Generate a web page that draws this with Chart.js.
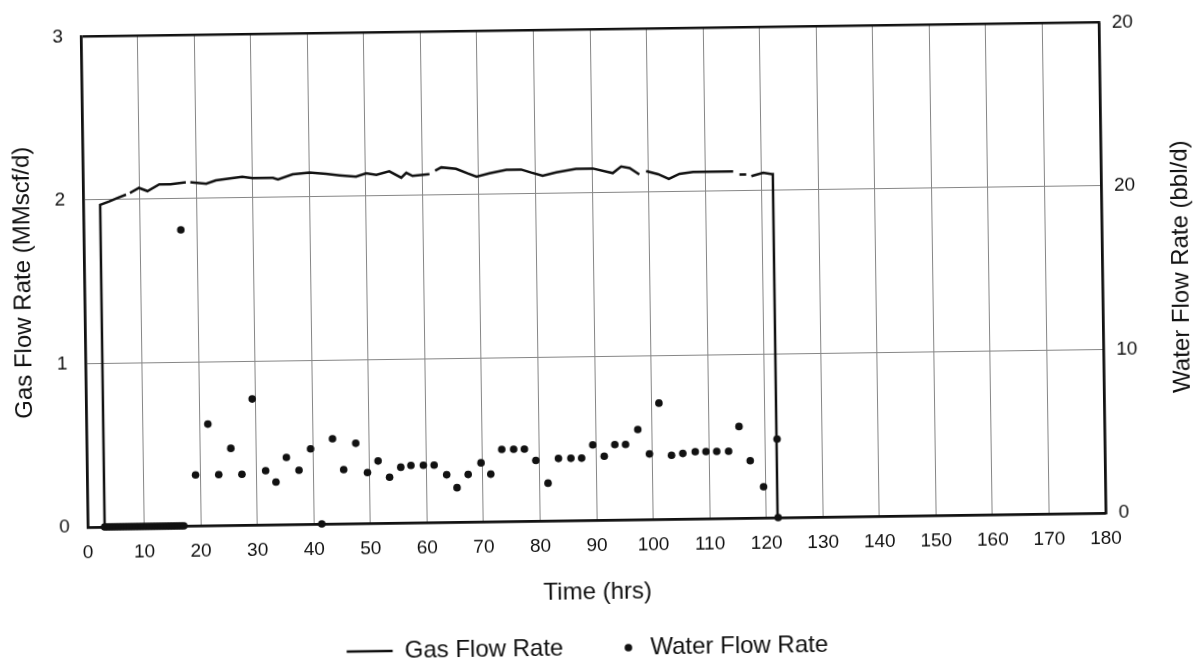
<!DOCTYPE html>
<html lang="en">
<head>
<meta charset="utf-8">
<title>Gas and Water Flow Rate</title>
<script src="https://cdn.jsdelivr.net/npm/chart.js@4.4.1/dist/chart.umd.min.js"></script>
<style>
    html, body { margin: 0; padding: 0; background: #ffffff; overflow: hidden; }
    /* the source sheet sits slightly skewed on the scanner */
    #frame { width: 1204px; height: 661px; transform: rotate(-0.8deg); transform-origin: 50% 50%; }
    canvas { display: block; }
</style>
</head>
<body>
<div id="frame"><canvas id="flowChart" width="1204" height="661"></canvas></div>
<script>
// Gas flow rate trace (MMscf/d); null marks a gap in the logged record
const gasTime = [
    3, 3, 4.6, 6.0, 7.6, 7.9, 8.3, 9.9, 11.4, 13.5,
    15.5, 18.2, 18.6, 19.0, 21.8, 23.5, 26.0, 28.2, 30.0, 33.6,
    34.5, 37.1, 40.1, 43.0, 45.4, 48.3, 50.1, 51.9, 54.2, 56.3,
    57.2, 58.3, 61.3, 61.8, 62.3, 63.4, 66.0, 68.1, 69.6, 71.9,
    74.9, 77.5, 79.3, 81.3, 83.7, 87.2, 90.2, 93.7, 95.2, 96.7,
    98.4, 99.0, 99.6, 101.7, 103.6, 105.5, 107.9, 111.0, 115.0, 115.5,
    116.1, 117.3, 117.7, 118.2, 120.3, 121.8, 122.0, 122.0,
];
const gasRate = [
    0, 1.97, 1.99, 2.01, 2.03, null, 2.04, 2.07, 2.05, 2.09,
    2.09, 2.10, null, 2.10, 2.09, 2.11, 2.12, 2.13, 2.12, 2.12,
    2.11, 2.14, 2.15, 2.14, 2.13, 2.12, 2.14, 2.13, 2.15, 2.11,
    2.14, 2.12, 2.13, null, 2.15, 2.17, 2.16, 2.13, 2.11, 2.13,
    2.15, 2.15, 2.13, 2.11, 2.13, 2.15, 2.15, 2.12, 2.16, 2.15,
    2.11, null, 2.13, 2.11, 2.08, 2.11, 2.12, 2.12, 2.12, null,
    2.10, 2.10, null, 2.09, 2.11, 2.10, 2.10, 0,
];

// Water flow rate samples (bbl/d)
const waterTime = [
    3, 3.5, 4, 4.5, 5, 5.5, 6, 6.5, 7, 7.5,
    8, 8.5, 9, 9.5, 10, 10.5, 11, 11.5, 12, 12.5,
    13, 13.5, 14, 14.5, 15, 15.5, 16, 16.5, 17,
    17.2, 19.2, 21.5, 23.3, 25.5, 27.4, 29.4, 31.6, 33.4, 35.3,
    37.5, 39.6, 41.4, 43.5, 45.4, 47.6, 49.6, 51.5, 53.5, 55.5,
    57.3, 59.5, 61.4, 63.6, 65.4, 67.4, 69.7, 71.4, 73.4, 75.5,
    77.4, 79.4, 81.5, 83.4, 85.6, 87.5, 89.5, 91.5, 93.4, 95.3,
    97.5, 99.5, 101.3, 103.4, 105.4, 107.6, 109.5, 111.4, 113.5, 115.4,
    117.3, 119.6, 122.1, 122.1,
];
const waterRate = [
    0, 0, 0, 0, 0, 0, 0, 0, 0, 0,
    0, 0, 0, 0, 0, 0, 0, 0, 0, 0,
    0, 0, 0, 0, 0, 0, 0, 0, 0,
    18.1, 3.1, 6.2, 3.1, 4.7, 3.1, 7.7, 3.3, 2.6, 4.1,
    3.3, 4.6, 0, 5.2, 3.3, 4.9, 3.1, 3.8, 2.8, 3.4,
    3.5, 3.5, 3.5, 2.9, 2.1, 2.9, 3.6, 2.9, 4.4, 4.4,
    4.4, 3.7, 2.3, 3.8, 3.8, 3.8, 4.6, 3.9, 4.6, 4.6,
    5.5, 4.0, 7.1, 3.9, 4.0, 4.1, 4.1, 4.1, 4.1, 5.6,
    3.5, 1.9, 4.8, 0,
];

// Axis ticks
const timeTicks = [0, 10, 20, 30, 40, 50, 60, 70, 80, 90, 100, 110, 120, 130, 140, 150, 160, 170, 180];
const gasTicks = [0, 1, 2, 3];
const waterTicks = [0, 10, 20, 30];
const waterTickLabels = ['0', '10', '20', '20'];

const FONT_FAMILY = 'Arial, "Liberation Sans", Helvetica, sans-serif';
const INK = '#111111';
const GRID = '#868686';

const toPoints = (xs, ys) => xs.map((x, i) => ({ x: x, y: ys[i] }));
const setTicks = values => scale => { scale.ticks = values.map(v => ({ value: v })); };

// outer frame lines are black, inner grid grey
const edgeColor = (lo, hi) => c => (c.tick.value === lo || c.tick.value === hi) ? INK : GRID;
const edgeWidth = (lo, hi) => c => (c.tick.value === lo || c.tick.value === hi) ? 2.5 : 1;

const tickFont = { family: FONT_FAMILY, size: 19 };
const titleFont = { family: FONT_FAMILY, size: 24 };

// legend dot: a small round marker sitting close to its label
const legendDot = document.createElement('canvas');
legendDot.width = 48;
legendDot.height = 10;
(() => {
    const g = legendDot.getContext('2d');
    g.fillStyle = INK;
    g.beginPath();
    g.arc(37, 5, 3.8, 0, Math.PI * 2);
    g.fill();
})();

// right-hand title reads bottom-to-top, same as the left one
const rightTitle = {
    id: 'rightTitle',
    afterDraw(chart) {
        const { ctx, chartArea } = chart;
        ctx.save();
        ctx.translate(1182, (chartArea.top + chartArea.bottom) / 2);
        ctx.rotate(-Math.PI / 2);
        ctx.font = `24px ${FONT_FAMILY}`;
        ctx.fillStyle = INK;
        ctx.textAlign = 'center';
        ctx.textBaseline = 'middle';
        ctx.fillText('Water Flow Rate (bbl/d)', 0, 0);
        ctx.restore();
    },
};

new Chart(document.getElementById('flowChart'), {
    type: 'scatter',
    data: {
        datasets: [
            {
                label: 'Gas Flow Rate',
                data: toPoints(gasTime, gasRate),
                yAxisID: 'yGas',
                showLine: true,
                spanGaps: false,
                tension: 0,
                borderColor: INK,
                borderWidth: 2.5,
                pointRadius: 0,
                pointHoverRadius: 0,
                clip: false,
            },
            {
                label: 'Water Flow Rate',
                data: toPoints(waterTime, waterRate),
                yAxisID: 'yWater',
                showLine: false,
                pointRadius: 3.8,
                pointBorderWidth: 0,
                backgroundColor: INK,
                borderColor: INK,
                clip: false,
            },
        ],
    },
    options: {
        responsive: false,
        animation: false,
        devicePixelRatio: 1,
        layout: { padding: { top: 21, right: 38, bottom: -9, left: 0 } },
        plugins: {
            tooltip: { enabled: false },
            legend: {
                position: 'bottom',
                labels: {
                    usePointStyle: true,
                    pointStyleWidth: 46,
                    boxHeight: 5,
                    padding: 29,
                    color: INK,
                    font: titleFont,
                    generateLabels: chart => chart.data.datasets.map((ds, i) => ({
                        text: ds.label,
                        datasetIndex: i,
                        pointStyle: i === 0 ? 'line' : legendDot,
                        strokeStyle: INK,
                        fillStyle: INK,
                        lineWidth: i === 0 ? 2.5 : 0,
                        fontColor: INK,
                        hidden: false,
                    })),
                },
            },
        },
        scales: {
            x: {
                type: 'linear',
                position: 'bottom',
                min: 0,
                max: 180,
                afterBuildTicks: setTicks(timeTicks),
                afterFit: scale => { scale.height = 87; },
                grid: { color: edgeColor(0, 180), lineWidth: edgeWidth(0, 180), drawTicks: false },
                border: { color: INK, width: 2.5 },
                ticks: { color: INK, padding: 14, maxRotation: 0, autoSkip: false, font: tickFont },
                title: {
                    display: true,
                    text: 'Time (hrs)',
                    color: INK,
                    font: titleFont,
                    padding: { top: 0, bottom: 0 },
                },
            },
            yGas: {
                type: 'linear',
                position: 'left',
                min: 0,
                max: 3,
                afterBuildTicks: setTicks(gasTicks),
                afterFit: scale => { scale.width = 85; },
                grid: { color: edgeColor(0, 3), lineWidth: edgeWidth(0, 3), drawTicks: false },
                border: { color: INK, width: 2.5 },
                ticks: { color: INK, padding: 18, font: tickFont },
                title: {
                    display: true,
                    text: 'Gas Flow Rate (MMscf/d)',
                    color: INK,
                    font: titleFont,
                    padding: { top: 10, bottom: 0 },
                },
            },
            yWater: {
                type: 'linear',
                position: 'right',
                min: 0,
                max: 30,
                afterBuildTicks: setTicks(waterTicks),
                afterFit: scale => { scale.width = 63; },
                grid: { drawOnChartArea: false, drawTicks: false },
                border: { color: INK, width: 2.5 },
                ticks: {
                    color: INK,
                    padding: 13,
                    font: tickFont,
                    callback: (value, i) => waterTickLabels[i],
                },
            },
        },
    },
    plugins: [rightTitle],
});
</script>
</body>
</html>
